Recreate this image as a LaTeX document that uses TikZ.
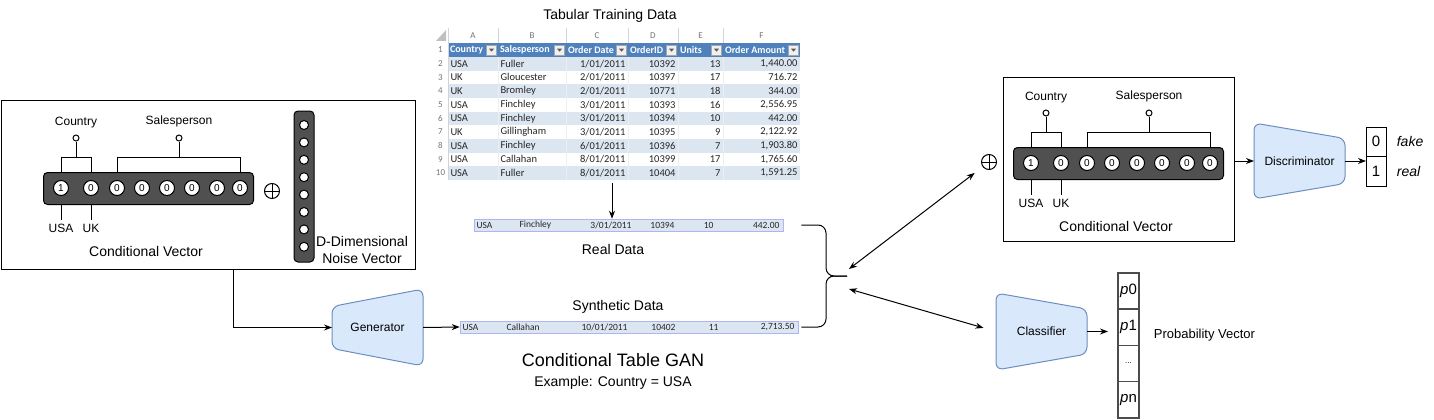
\documentclass[tikz,border=0pt]{standalone}
\usepackage{fontspec}
\setmainfont{Liberation Sans}
\newfontfamily\xlfont{Carlito}
\usetikzlibrary{arrows.meta}
\usetikzlibrary{positioning}
\definecolor{barfill}{HTML}{505050}
\definecolor{netfill}{HTML}{DAE8FC}
\definecolor{netdraw}{HTML}{6C8EBF}
\definecolor{xlhead}{HTML}{4F81BD}
\definecolor{xlband}{HTML}{DCE6F1}
\definecolor{xlgrid}{HTML}{D4D4D4}
\definecolor{xltext}{HTML}{262626}

\begin{document}
\begin{tikzpicture}
  [
    x=1pt, y=-1pt,
    >={Stealth[length=8pt, width=6pt]},
    line width=1pt,
    lbl/.style      = {font=\fontsize{14}{17}\selectfont},
    smalllbl/.style = {font=\fontsize{12}{14}\selectfont},
    box/.style      = {draw, inner sep=0pt},
    bar/.style      = {draw, fill=barfill, rounded corners=4pt, inner sep=0pt},
    bit/.style      = {draw, circle, fill=white, minimum size=15pt, inner sep=0pt, font=\fontsize{10}{10}\selectfont},
    noisebit/.style = {draw, circle, fill=white, minimum size=9pt, inner sep=0pt},
    knob/.style     = {draw, circle, fill=white, minimum size=6pt, inner sep=0pt},
    oplus/.style    = {draw, circle, minimum size=15pt, inner sep=0pt,
                       path picture={\draw[line width=0.8pt]
                         (path picture bounding box.north) -- (path picture bounding box.south)
                         (path picture bounding box.west) -- (path picture bounding box.east);}},
    netbox/.style   = {minimum width=91pt, minimum height=77pt, inner sep=0pt, outer sep=0pt},
    netshape/.style = {draw=netdraw, fill=netfill, rounded corners=7pt},
    netlbl/.style   = {font=\fontsize{12}{14}\selectfont},
    xlcell/.style   = {inner sep=0pt, text=xltext, font=\xlfont\fontsize{10.5}{12}\selectfont},
    xlhd/.style     = {inner sep=0pt, text=white, font=\xlfont\bfseries\fontsize{10}{12}\selectfont},
    xlnum/.style    = {inner sep=0pt, text=black!55, font=\xlfont\fontsize{9}{10}\selectfont},
    xlbtn/.style    = {draw=black!35, fill=black!6, line width=0.5pt, minimum size=10pt, inner sep=0pt,
                       path picture={\fill[black!65] ([xshift=-2.5pt,yshift=1.3pt]path picture bounding box.center)
                         -- ++(5pt,0pt) -- ++(-2.5pt,-3pt) -- cycle;}},
    xlrow/.style    = {draw=xlband!70!blue!80!white, line width=0.5pt, fill=xlband, inner sep=0pt, minimum height=12pt},
    rowtxt/.style   = {inner sep=0pt, text=xltext, font=\xlfont\fontsize{9.5}{10}\selectfont},
    outcell/.style  = {draw, minimum width=20pt, minimum height=29.5pt, inner sep=0pt, outer sep=0pt,
                       font=\fontsize{15}{16}\selectfont},
    outlab/.style   = {font=\itshape\fontsize{14}{16}\selectfont},
    pcell/.style    = {draw=black!70, line width=1.3pt, minimum width=21pt, minimum height=36.25pt,
                       inner sep=0pt, outer sep=0pt, font=\fontsize{15}{16}\selectfont},
  ]

  \useasboundingbox (0,0) rectangle (1434,420);

  % tabular training data
  \node (tabtitle) [lbl] at (610,16) {Tabular Training Data};

  \fill[black!25] (446,30) -- (446,41) -- (436,41) -- cycle;
  \foreach \l/\xa/\xb in {A/448/498, B/498/566, C/566/628, D/628/678, E/678/723, F/723/800} {
    \draw[xlgrid, line width=0.5pt] (\xa,28) -- (\xa,43) -- (\xb,43);
    \node (col\l) [xlnum] at ({(\xa+\xb)/2},35.5) {\l};
  }

  \fill[xlhead] (448,43) rectangle (800,57);
  \node (num1) [xlnum] at (440.5,50) {1};
  \foreach \h/\xa/\xb in {Country/448/498, Salesperson/498/566, Order Date/566/628,
                          OrderID/628/678, Units/678/723, Order Amount/723/800} {
    \node (hd\xa) [xlhd, anchor=west] at (\xa+1.5,50) {\h};
    \node (btn\xa) [xlbtn] at (\xb-6.5,50) {};
  }

  \foreach \ca/\cb/\cc/\cd/\ce/\cf [count=\i from 2] in {
      USA/Fuller/{1/01/2011}/10392/13/{1,440.00},
      UK/Gloucester/{2/01/2011}/10397/17/716.72,
      UK/Bromley/{2/01/2011}/10771/18/344.00,
      USA/Finchley/{3/01/2011}/10393/16/{2,556.95},
      USA/Finchley/{3/01/2011}/10394/10/442.00,
      UK/Gillingham/{3/01/2011}/10395/9/{2,122.92},
      USA/Finchley/{6/01/2011}/10396/7/{1,903.80},
      USA/Callahan/{8/01/2011}/10399/17/{1,765.60},
      USA/Fuller/{8/01/2011}/10404/7/{1,591.25}} {
    \pgfmathsetmacro\y{50+(\i-1)*13.67}
    \ifodd\i \def\bg{white}\else\def\bg{xlband}\fi
    \fill[\bg] (448,\y-6.83) rectangle (800,\y+6.83);
    \node (num\i) [xlnum] at (440.5,\y) {\i};
    \node (c\i-1) [xlcell, anchor=west] at (450,\y) {\ca};
    \node (c\i-2) [xlcell, anchor=west] at (500,\y) {\cb};
    \node (c\i-3) [xlcell, anchor=east] at (626,\y) {\cc};
    \node (c\i-4) [xlcell, anchor=east] at (676,\y) {\cd};
    \node (c\i-5) [xlcell, anchor=east] at (721,\y) {\ce};
    \node (c\i-6) [xlcell, anchor=east] at (798,\y) {\cf};
  }
  \foreach \gx in {498,566,628,678,723}
    \draw[white!60!xlgrid, line width=0.5pt] (\gx,57) -- (\gx,180);
  \draw[xlgrid, line width=0.5pt] (448,28) -- (448,180);

  \coordinate (tabout) at (612,183);

  % real and synthetic rows
  \node (realrow) [xlrow, minimum width=309pt] at (628.5,225) {};
  \foreach \t/\tx/\an in {USA/476/west, Finchley/519/west, {3/01/2011}/632/east,
                          10394/675/east, 10/714/east, 442.00/780/east}
    \node (real\tx) [rowtxt, anchor=\an] at (\tx,225) {\t};
  \node (reallab) [lbl] at (613,249) {Real Data};

  \node (synlab) [lbl] at (618,307) {Synthetic Data};
  \node (synrow) [xlrow, minimum width=338pt] at (629,327) {};
  \foreach \t/\tx/\an in {USA/462/west, Callahan/506/west, {10/01/2011}/628/east,
                          10402/676/east, 11/719/east, {2,713.50}/795/east}
    \node (syn\tx) [rowtxt, anchor=\an] at (\tx,327) {\t};

  \node (gantitle) [font=\fontsize{18}{20}\selectfont] at (613,360) {Conditional Table GAN};
  \node (ganex) [lbl] at (613,383) {Example: Country = USA};

  \draw[->] (tabout) -- (tabout |- realrow.north);

  % conditional vectors
  \node (leftbox) [box, minimum width=414pt, minimum height=169pt] at (208,184.5) {};
  \node (rightbox) [box, minimum width=231pt, minimum height=164pt] at (1118.5,159) {};

  \foreach \p/\bx/\by in {l/43/172, r/1013/147} {
    \begin{scope}[shift={(\bx,\by)}]
      \node (\p bar) [bar, anchor=north west, minimum width=210pt, minimum height=32pt] at (0,0) {};
      \foreach \cx/\v [count=\i] in {18/1, 48/0, 74/0, 99/0, 124/0, 149/0, 174/0, 197/0}
        \node (\p b\i) [bit] at (\cx,16) {\v};

      \node (\p cknob) [knob] at (33,-34) {};
      \node (\p country) [smalllbl] at (33,-49) {Country};
      \draw (\p b1 |- \p bar.north) -- ++(0,-15) -| (\p b2 |- \p bar.north);
      \draw (\p cknob) -- (33,-15);

      \node (\p sknob) [knob] at (136,-34) {};
      \node (\p sales) [smalllbl] at (136,-51) {Salesperson};
      \draw (\p b3 |- \p bar.north) -- ++(0,-15) -| (\p b8 |- \p bar.north);
      \draw (\p sknob) -- (136,-15);

      \node (\p usa) [smalllbl] at (18,56) {USA};
      \node (\p uk) [smalllbl] at (48,56) {UK};
      \draw (\p b1 |- \p bar.south) -- (\p usa);
      \draw (\p b2 |- \p bar.south) -- (\p uk);

      \node (\p cvlab) [lbl] at (103,79) {Conditional Vector};
    \end{scope}
  }

  \node (lplus) [oplus] at (272,191) {};
  \node (rplus) [oplus] at (989,162) {};

  % noise vector
  \node (noise) [bar, minimum width=20pt, minimum height=151pt] at (304,186.5) {};
  \foreach \k in {0,...,7}
    \node (nb\k) [noisebit] at (304,125+17.4*\k) {};
  \node (noiselab) [lbl, align=center, font=\fontsize{14}{17}\selectfont] at (362,249.5) {D-Dimensional\\Noise Vector};

  % networks
  \node (gen) [netbox] at (377.5,327.5) {};
  \draw[netshape] ([yshift=-17.5pt]gen.north west) -- (gen.north east) -- (gen.south east)
    -- ([yshift=17.5pt]gen.south west) -- cycle;
  \node (genlbl) [netlbl] at (gen) {Generator};

  \node (disc) [netbox, minimum height=76pt] at (1299.5,161) {};
  \draw[netshape] (disc.north west) -- ([yshift=-15.5pt]disc.north east)
    -- ([yshift=15.5pt]disc.south east) -- (disc.south west) -- cycle;
  \node (disclbl) [netlbl] at (disc) {Discriminator};

  \node (clf) [netbox] at (1041.5,331.5) {};
  \draw[netshape] (clf.north west) -- ([yshift=-16pt]clf.north east)
    -- ([yshift=16pt]clf.south east) -- (clf.south west) -- cycle;
  \node (clflbl) [netlbl] at (clf) {Classifier};

  % outputs
  \node (o0) [outcell] at (1376,141.75) {0};
  \node (o1) [outcell, below=0pt of o0] {1};
  \node (fakelab) [outlab, anchor=west] at (1393,141.75) {fake};
  \node (reallab2) [outlab, anchor=west] at (1393,171.25) {real};

  \node (p0) [pcell] at (1128.5,291) {{\itshape p}0};
  \node (p1) [pcell, below=0pt of p0] {{\itshape p}1};
  \node (pdots) [pcell, below=0pt of p1, font=\fontsize{8}{9}\selectfont] {...};
  \node (pn) [pcell, below=0pt of pdots] {{\itshape p}n};
  \node (problab) [font=\fontsize{13}{15}\selectfont, anchor=west] at (1150,335) {Probability Vector};

  % connectors
  \draw[->] ([xshift=25pt]leftbox.south) |- (gen.west);
  \draw[->] (gen.east) -- (synrow.west);
  \draw[->] (rightbox.east |- disc.west) -- (disc.west);
  \draw[->] (disc.east) -- (disc.east -| o0.west);
  \draw[->, shorten >=10pt] (clf.east) -- (clf.east -| p1.west);

  \coordinate (join) at (847,276);
  \draw[rounded corners=8pt] ([xshift=18pt]realrow.east) -| (826,276) -- (join);
  \draw[rounded corners=8pt] ([xshift=3pt]synrow.east) -| (826,276) -- (join);

  \coordinate (jtop) at (849,269);
  \coordinate (jbot) at (849,289);
  \draw[<->, shorten >=10pt] (jtop) -- (rplus);
  \draw[<->, shorten >=13pt] (jbot) -- (clf.west);

\end{tikzpicture}
\end{document}
